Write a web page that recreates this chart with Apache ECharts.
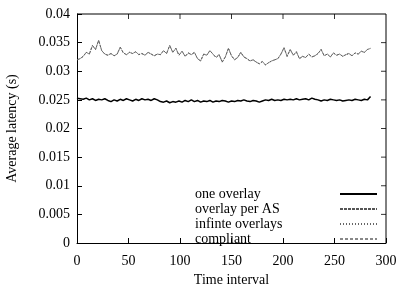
<!DOCTYPE html>
<html>
<head>
<meta charset="utf-8">
<script src="https://cdn.jsdelivr.net/npm/echarts@6/dist/echarts.min.js"></script>
<style>
    html, body { margin: 0; padding: 0; background: #fff; }
    #chart { width: 398px; height: 286px; }
</style>
</head>
<body>
<div id="chart"></div>
<script>
// time intervals sampled every 3 steps
const timeStep = 3;
const xMax = 300;
const yMax = 0.04;
const xTicks = [50, 100, 150, 200, 250];
const yTicks = [0.005, 0.01, 0.015, 0.02, 0.025, 0.03, 0.035];

const oneOverlay = [
    0.0253, 0.0252, 0.0251, 0.0253, 0.0250, 0.0252, 0.0249, 0.0251, 0.0250, 0.0252,
    0.0249, 0.0247, 0.0250, 0.0248, 0.0251, 0.0249, 0.0252, 0.0250, 0.0248, 0.0251,
    0.0249, 0.0252, 0.0250, 0.0251, 0.0249, 0.0252, 0.0250, 0.0247, 0.0246, 0.0248,
    0.0245, 0.0247, 0.0246, 0.0248, 0.0246, 0.0249, 0.0247, 0.0250, 0.0247, 0.0249,
    0.0246, 0.0248, 0.0247, 0.0249, 0.0246, 0.0248, 0.0247, 0.0249, 0.0248, 0.0246,
    0.0248, 0.0247, 0.0249, 0.0248, 0.0250, 0.0248, 0.0247, 0.0249, 0.0248, 0.0246,
    0.0248, 0.0250, 0.0249, 0.0251, 0.0249, 0.0250, 0.0249, 0.0251, 0.0250, 0.0251,
    0.0250, 0.0252, 0.0250, 0.0251, 0.0252, 0.0250, 0.0253, 0.0251, 0.0250, 0.0248,
    0.0250, 0.0249, 0.0251, 0.0250, 0.0249, 0.0250, 0.0248, 0.0249, 0.0250, 0.0249,
    0.0251, 0.0250, 0.0249, 0.0251, 0.0250, 0.0256
];

// the other three schemes sit on top of each other
const overlayPerAS = [
    0.0320, 0.0322, 0.0326, 0.0333, 0.0330, 0.0345, 0.0338, 0.0354, 0.0336, 0.0330,
    0.0328, 0.0331, 0.0327, 0.0330, 0.0342, 0.0332, 0.0329, 0.0333, 0.0331, 0.0334,
    0.0329, 0.0331, 0.0328, 0.0333, 0.0330, 0.0327, 0.0330, 0.0329, 0.0336, 0.0331,
    0.0345, 0.0333, 0.0340, 0.0328, 0.0335, 0.0326, 0.0332, 0.0329, 0.0333, 0.0322,
    0.0318, 0.0330, 0.0328, 0.0336, 0.0330, 0.0324, 0.0329, 0.0316, 0.0325, 0.0340,
    0.0327, 0.0320, 0.0324, 0.0333, 0.0325, 0.0322, 0.0318, 0.0320, 0.0316, 0.0313,
    0.0317, 0.0311, 0.0315, 0.0318, 0.0320, 0.0322, 0.0330, 0.0341, 0.0326, 0.0338,
    0.0328, 0.0334, 0.0322, 0.0326, 0.0324, 0.0330, 0.0325, 0.0327, 0.0331, 0.0338,
    0.0327, 0.0330, 0.0325, 0.0332, 0.0328, 0.0330, 0.0326, 0.0329, 0.0331, 0.0327,
    0.0332, 0.0330, 0.0335, 0.0333, 0.0338, 0.0340
];
const infiniteOverlays = overlayPerAS.slice();
const compliant = overlayPerAS.slice();

const nameList = ["one overlay", "overlay per AS", "infinte overlays", "compliant"];
const dataList = [oneOverlay, overlayPerAS, infiniteOverlays, compliant];
const lineTypes = ["solid", [3, 1], [1, 2], [3, 2]];
const lineColors = ["#000", "#555", "#666", "#888"];
const lineWidths = [1.5, 0.8, 0.8, 0.8];

const font = "Liberation Serif";

const pairs = (arr) => arr.map((v, i) => [i * timeStep, v]);

let series = nameList.map((name, i) => ({
    name: name,
    type: "line",
    data: pairs(dataList[i]),
    symbol: "none",
    color: lineColors[i],
    lineStyle: { color: lineColors[i], width: lineWidths[i], type: lineTypes[i] },
    z: 10 - i,
}));

// top and right sides of the frame, drawn along the axis extents
series.push({
    name: "frame",
    type: "line",
    data: [[0, yMax], [xMax, yMax], [xMax, 0]],
    symbol: "none",
    clip: false,
    silent: true,
    lineStyle: { color: "#000", width: 1, type: "solid" },
    z: 20,
});
// inward ticks on the top side
series.push({
    name: "topTicks",
    type: "scatter",
    data: xTicks.map((x) => [x, yMax]),
    symbol: "rect",
    symbolSize: [1, 5],
    symbolOffset: [0, 2.5],
    clip: false,
    silent: true,
    itemStyle: { color: "#000" },
    z: 20,
});
// inward ticks on the right side
series.push({
    name: "rightTicks",
    type: "scatter",
    data: yTicks.map((y) => [xMax, y]),
    symbol: "rect",
    symbolSize: [5, 1],
    symbolOffset: [-2.5, 0],
    clip: false,
    silent: true,
    itemStyle: { color: "#000" },
    z: 20,
});

let option = {
    animation: false,
    textStyle: { fontFamily: font },
    grid: { left: 77, right: 12, top: 14, bottom: 43, outerBoundsMode: "none" },
    legend: {
        orient: "vertical",
        left: 195,
        top: 187,
        padding: 0,
        align: "right",
        itemWidth: 37,
        itemHeight: 12,
        itemGap: 1,
        itemStyle: { opacity: 0 },
        formatter: (name) => "{n|" + name + "}",
        textStyle: {
            fontFamily: font,
            fontSize: 14,
            color: "#000",
            rich: {
                n: { width: 140, align: "left", fontFamily: font, fontSize: 14, color: "#000", lineHeight: 12 },
            },
        },
        data: nameList,
    },
    xAxis: {
        type: "value",
        min: 0,
        max: xMax,
        interval: 50,
        name: "Time interval",
        nameLocation: "middle",
        nameGap: 27,
        nameTextStyle: { fontFamily: font, fontSize: 14, color: "#000" },
        axisLabel: { fontFamily: font, fontSize: 14, color: "#000", margin: 11 },
        axisTick: { inside: true, length: 5, lineStyle: { color: "#000" } },
        axisLine: { show: true, onZero: false, lineStyle: { color: "#000", width: 1 } },
        splitLine: { show: false },
    },
    yAxis: {
        type: "value",
        min: 0,
        max: yMax,
        interval: 0.005,
        name: "Average latency (s)",
        nameLocation: "middle",
        nameGap: 58,
        nameTextStyle: { fontFamily: font, fontSize: 14, color: "#000" },
        axisLabel: { fontFamily: font, fontSize: 14, color: "#000", margin: 7 },
        axisTick: { inside: true, length: 5, lineStyle: { color: "#000" } },
        axisLine: { show: true, onZero: false, lineStyle: { color: "#000", width: 1 } },
        splitLine: { show: false },
    },
    series: series,
};

let myChart = echarts.init(document.getElementById("chart"), null, { renderer: "canvas" });
myChart.setOption(option);
</script>
</body>
</html>
